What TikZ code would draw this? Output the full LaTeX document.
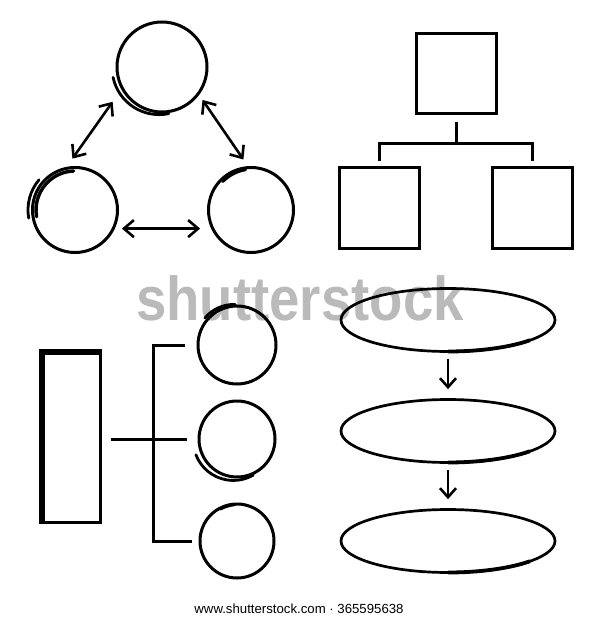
\documentclass[tikz,border=0pt]{standalone}
\usepackage{fontspec}
\setmainfont{Liberation Sans}
\usetikzlibrary{arrows.meta,shapes.geometric}

\begin{document}
\begin{tikzpicture}[x=1pt,y=-1pt,
    ring/.style={circle, draw, line width=3pt, inner sep=0pt},
    box/.style={rectangle, draw, line width=3pt, inner sep=0pt},
    oval/.style={ellipse, draw, line width=2.7pt, inner sep=0pt, minimum width=214pt, minimum height=63pt},
    link/.style={line width=2.6pt, {Straight Barb[length=10pt,width=17pt]}-{Straight Barb[length=10pt,width=17pt]}},
    flow/.style={line width=2.6pt, -{Straight Barb[length=9pt,width=16pt]}},
    tree/.style={line width=3pt},
    sketch/.style={line width=2.8pt, line cap=round}]
        \useasboundingbox (0,0) rectangle (600,620);

        % watermark and credit line
        \node[text=black!27, font=\fontsize{62}{62}\selectfont\bfseries, xscale=.88, anchor=base] (mark) at (300,320) {shutterstock};
        \node[font=\fontsize{13.2}{15}\selectfont] (credit) at (299,609) {www.shutterstock.com · 365595638};

        % three circles with arrows
        \node[ring, minimum size=90pt] (ta) at (162,67) {};
        \node[ring, minimum size=85pt] (tb) at (75,210) {};
        \node[ring, minimum size=85pt] (tc) at (251,210) {};
        \draw[link, shorten <=15pt, shorten >=10pt] (ta.209) -- (tb.101);
        \draw[link, shorten <=6pt, shorten >=8pt] (ta.-37) -- (tc.94);
        \draw[link, shorten <=7pt, shorten >=11pt] (tb.-25) -- (tc.205);
        \draw[sketch] ([shift={(192:50pt)}]ta.center) arc[start angle=192, end angle=282, radius=47pt];
        \draw[sketch, line width=3.4pt] ([shift={(190:39pt)}]tb.center) arc[start angle=190, end angle=92, radius=39pt];
        \draw[sketch] ([shift={(190:47pt)}]tb.center) arc[start angle=190, end angle=140, radius=47pt];
        \draw[sketch] ([shift={(135:40pt)}]tc.center) arc[start angle=135, end angle=100, radius=43pt];

        % org chart
        \node[box, minimum size=80pt] (boss) at (456,74) {};
        \node[box, minimum size=80pt] (staffa) at (379,208) {};
        \node[box, minimum size=80pt] (staffb) at (532,208) {};
        \coordinate (hub) at (456,144);
        \draw[tree] ([yshift=-7pt]boss.south) -- (hub);
        \draw[tree] ([yshift=5pt]staffa.north) |- (hub) -| ([yshift=5pt]staffb.north);

        % bar with bracket of circles
        \node[box, minimum width=57pt, minimum height=169pt] (pillar) at (71.5,437.5) {};
        \draw[line width=5pt] (pillar.south west) -- (pillar.north west) -- (pillar.north east);
        \node[ring, minimum size=78pt] (da) at (237,345) {};
        \node[ring, minimum size=76pt] (db) at (237,439) {};
        \node[ring, minimum size=74pt] (dc) at (237,541) {};
        \coordinate (spine) at (153,441);
        \draw[tree] ([xshift=-12pt]da.west) -| (spine) |- ([xshift=-7pt]dc.west);
        \draw[tree] ([xshift=9pt]pillar.east |- db.west) -- ([xshift=-11pt]db.west);
        \draw[sketch] ([shift={(140:42pt)}]da.center) arc[start angle=140, end angle=88, radius=38pt];
        \draw[sketch] ([shift={(201:44pt)}]db.center) arc[start angle=201, end angle=300, radius=40pt];
        \draw[sketch] ([shift={(118:36pt)}]dc.center) arc[start angle=118, end angle=96, radius=40pt];

        % ovals in a column
        \node[oval] (fa) at (448,320) {};
        \node[oval] (fb) at (448,431) {};
        \node[oval] (fc) at (448,541) {};
        \draw[flow, shorten <=6pt, shorten >=9pt] (fa) -- (fb);
        \draw[flow, shorten <=6pt, shorten >=9pt] (fb) -- (fc);
        \foreach \n in {fa,fb,fc} {
          \draw[line width=3.8pt] ([shift={(270:31.5pt)}]\n.center) arc[start angle=270, end angle=320, x radius=107pt, y radius=31.5pt];
        }
      \end{tikzpicture}
\end{document}
